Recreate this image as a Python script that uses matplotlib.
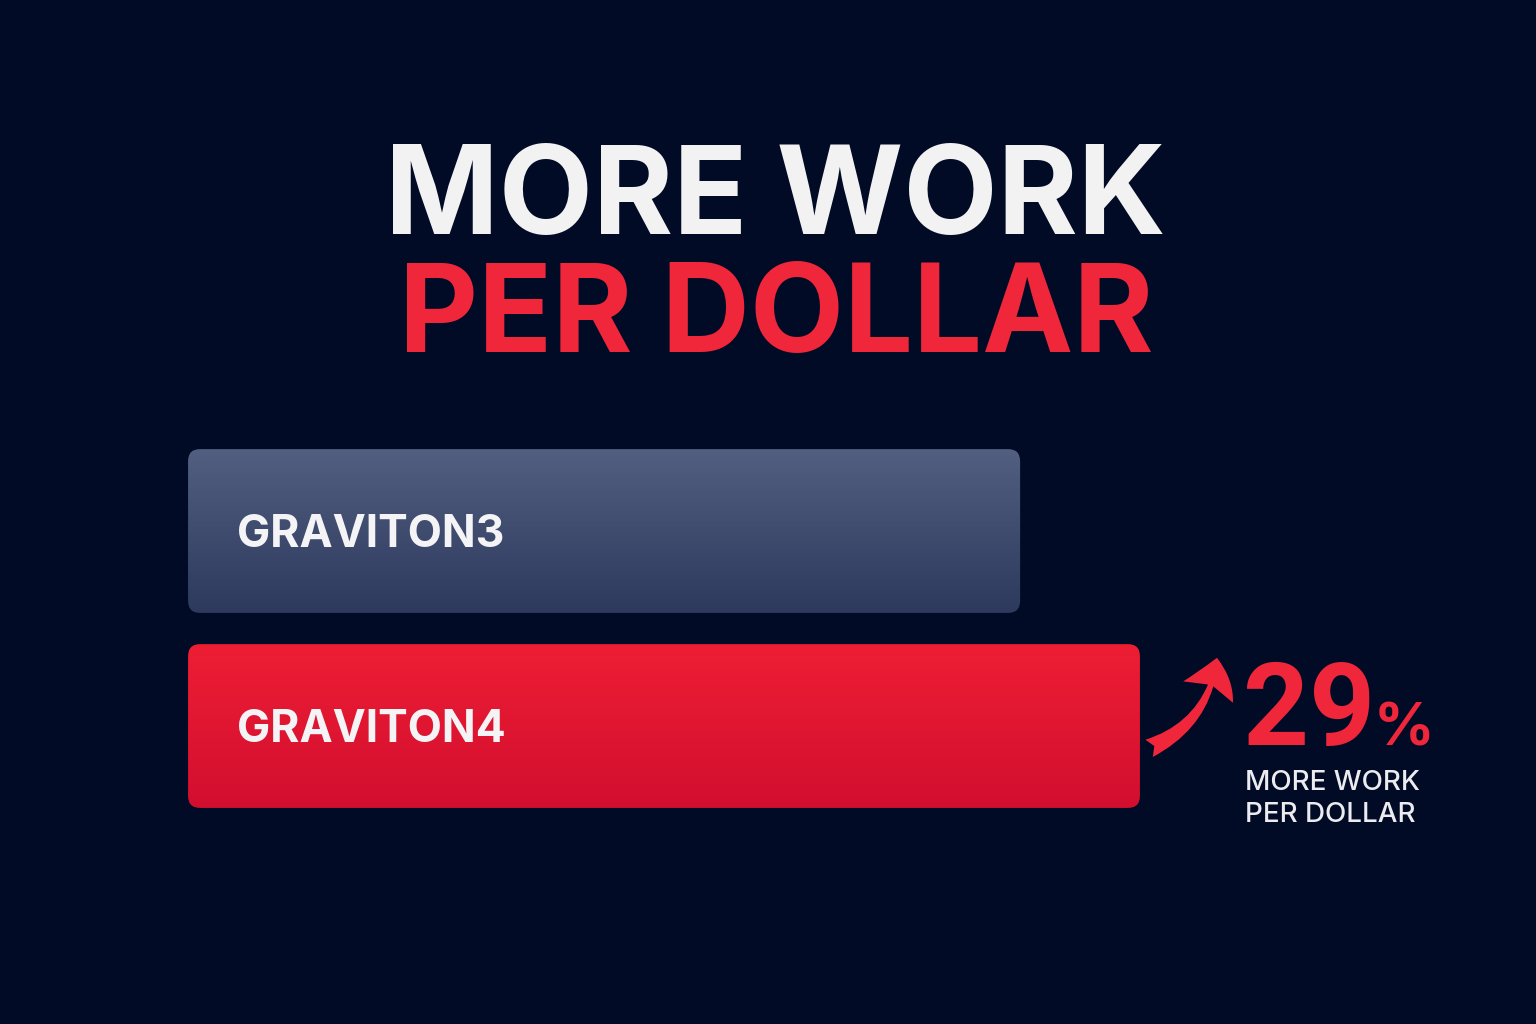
import matplotlib
matplotlib.use('Agg')
import matplotlib.pyplot as plt
import numpy as np
from matplotlib.patches import FancyBboxPatch, FancyArrowPatch
from matplotlib.colors import LinearSegmentedColormap

# data (relative bar lengths)
chips = ['GRAVITON3', 'GRAVITON4']
values = [100, 114.4]
gain_text = '29'
gain_note = ['MORE WORK', 'PER DOLLAR']
title_lines = ['MORE WORK', 'PER DOLLAR']

bg = '#020b26'
red = '#f0263a'
bar_cols = [('#535f80', '#2d395d'), ('#ee1e34', '#d20e2f')]
font = 'Inter'

fig = plt.figure(figsize=(15.36, 10.24), dpi=100, facecolor=bg)
ax = fig.add_axes([0, 0, 1, 1])
ax.set_facecolor(bg)
ax.set_xlim(-22.6, 162.0)
ax.set_ylim(-1.528, 3.723)
ax.axis('off')

ypos = [1, 0]
bh = 0.84
bars = ax.barh(ypos, values, height=bh, color='none')

aspect = (1 / 195) / (1 / 8.32)
for bar, name, (ctop, cbot) in zip(bars, chips, bar_cols):
    x0, y0 = bar.get_x(), bar.get_y()
    w, h = bar.get_width(), bar.get_height()
    box = FancyBboxPatch((x0, y0), w, h,
                         boxstyle='round,pad=0,rounding_size=1.45',
                         mutation_aspect=aspect, facecolor='none',
                         edgecolor='none', zorder=2)
    ax.add_patch(box)
    cmap = LinearSegmentedColormap.from_list('g', [cbot, ctop])
    grad = np.linspace(0, 1, 256).reshape(-1, 1)
    im = ax.imshow(grad, cmap=cmap, extent=(x0, x0 + w, y0, y0 + h),
                   origin='lower', aspect='auto', zorder=1)
    im.set_clip_path(box)
    ax.text(x0 + 5.9, y0 + h / 2 - 0.08, name, color='#f4f4f6', fontsize=32,
            fontweight='bold', family=font, va='baseline', ha='left',
            zorder=3)

# title
fig.text(775 / 1536, 1 - 234 / 1024, title_lines[0], color='#f2f2f2',
         fontsize=88, fontweight='bold', family=font, ha='center',
         va='baseline')
fig.text(776 / 1536, 1 - 352 / 1024, title_lines[1], color=red,
         fontsize=88, fontweight='bold', family=font, ha='center',
         va='baseline')

# gain annotation
g4 = bars[1]
tail = (g4.get_width() + 0.8, -0.12)
tip = (g4.get_width() + 9.3, 0.364)
arr = FancyArrowPatch(tail, tip, connectionstyle='arc3,rad=0.3',
                      arrowstyle='fancy,head_length=0.85,head_width=1.3,tail_width=0.45',
                      mutation_scale=30, color=red, lw=0, zorder=3)
ax.add_patch(arr)

t29 = fig.text(1243 / 1536, 1 - 745 / 1024, gain_text, color=red, fontsize=83,
               fontweight='bold', family='Roboto', ha='left', va='baseline')
fig.canvas.draw()
bb = t29.get_window_extent()
fig.text((bb.x1 - 2) / 1536, 1 - 745 / 1024, '%', color=red, fontsize=43,
         fontweight='bold', family=font, ha='left', va='baseline')
fig.text(1245 / 1536, 1 - 790 / 1024, gain_note[0], color='#ececf0',
         fontsize=20, fontweight='medium', family=font, ha='left',
         va='baseline')
fig.text(1245 / 1536, 1 - 822 / 1024, gain_note[1], color='#ececf0',
         fontsize=20, fontweight='medium', family=font, ha='left',
         va='baseline')

fig.savefig('out.png', dpi=100, facecolor=bg)
